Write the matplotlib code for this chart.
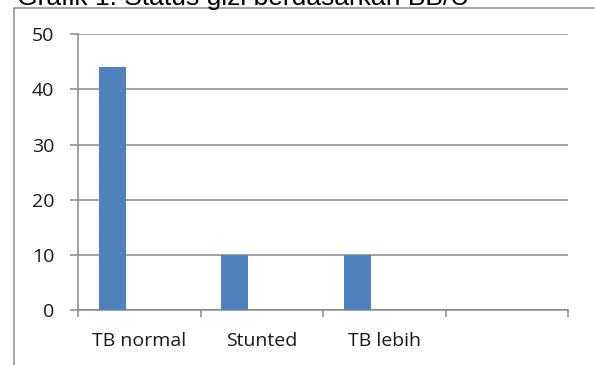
import matplotlib
matplotlib.use("Agg")
import matplotlib.pyplot as plt
from matplotlib.patches import Rectangle
from matplotlib.ticker import FixedLocator

categories = ["TB normal", "Stunted", "TB lebih", ""]
jumlah = [44, 10, 10, None]
yticks = [0, 10, 20, 30, 40, 50]
title = "Grafik 1. Status gizi berdasarkan BB/U"

plt.rcParams['font.family'] = ['Open Sans', 'DejaVu Sans']

W, H = 595, 365
fig = plt.figure(figsize=(W / 100, H / 100), dpi=100)

# outer chart frame (runs off the page at right and bottom)
fig.patches.append(Rectangle((14 / W, -0.1), 1.2, 1 - 8.5 / H + 0.1,
                             transform=fig.transFigure, fill=False,
                             edgecolor='#8c8c8c', linewidth=1.1))
fig.text(17 / W, 1 - 4.5 / H, title, fontsize=19, va='baseline', ha='left',
         color='#000000', family='Liberation Sans')

ax = fig.add_axes([78 / W, (H - 310) / H, (568 - 78) / W, (310 - 34.3) / H])

grey = '#898989'
bar_w = 0.221
xs = [i - bar_w for i, v in enumerate(jumlah) if v is not None]
vals = [v for v in jumlah if v is not None]
ax.bar(xs, vals, width=bar_w, color='#4f81bd', zorder=3)

ax.set_xlim(-0.5, len(categories) - 0.5)
ax.set_ylim(0, 50)
ax.set_yticks(yticks)
ax.yaxis.grid(True, color=grey, linewidth=1.1)
ax.set_axisbelow(True)

# category boundaries get the tick marks, names sit in between
ax.xaxis.set_major_locator(FixedLocator([i - 0.5 for i in range(len(categories) + 1)]))
ax.xaxis.set_minor_locator(FixedLocator(range(len(categories))))
ax.set_xticklabels([], minor=False)
ax.set_xticklabels(categories, minor=True)
ax.tick_params(axis='x', which='major', length=5, width=1.1, color=grey, direction='out')
ax.tick_params(axis='x', which='minor', length=0, pad=16, labelsize=14, labelcolor='#1a1a1a')
ax.tick_params(axis='y', length=6, width=1.1, color=grey, pad=11, labelsize=14, labelcolor='#1a1a1a')

for side in ['top', 'right']:
    ax.spines[side].set_visible(False)
for side in ['left', 'bottom']:
    ax.spines[side].set_color(grey)
    ax.spines[side].set_linewidth(1.1)

plt.savefig("out.png", dpi=100)
